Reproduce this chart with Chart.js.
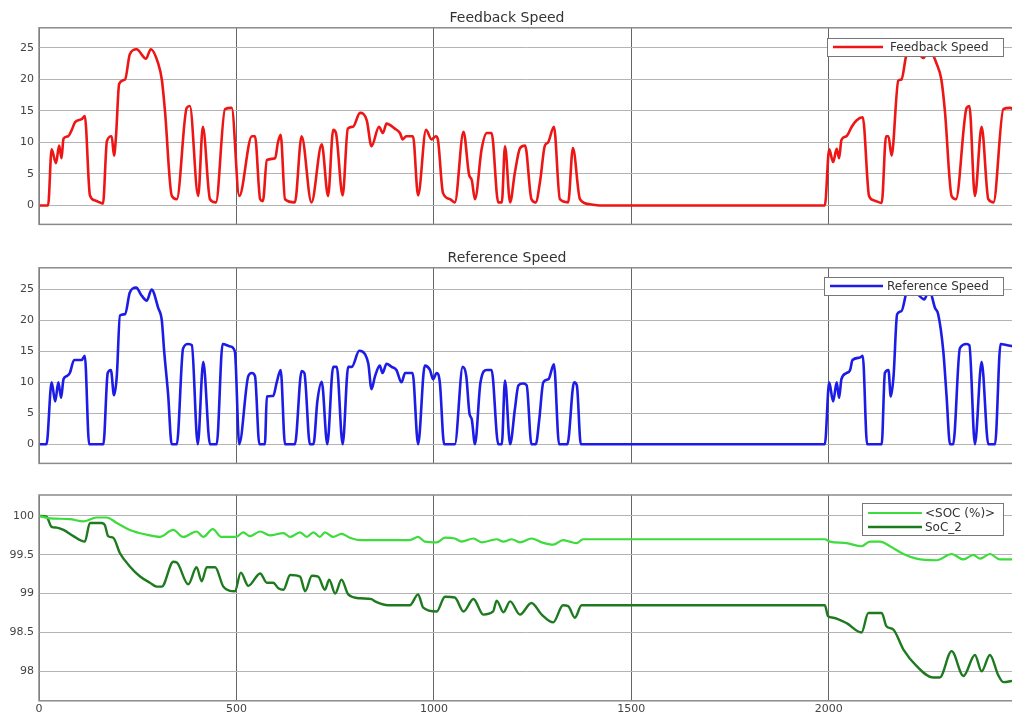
<!DOCTYPE html>
<html>
<head>
<meta charset="utf-8">
<script src="https://cdn.jsdelivr.net/npm/chart.js@4.4.1/dist/chart.umd.min.js"></script>
<style>
  html, body { margin: 0; padding: 0; background: #fff; width: 1012px; height: 718px; overflow: hidden; }
  canvas { position: absolute; left: 0; }
  #c1 { top: 0; }
  #c2 { top: 240px; }
  #c3 { top: 480px; }
</style>
</head>
<body>
<canvas id="c1" width="1016" height="236"></canvas>
<canvas id="c2" width="1016" height="235"></canvas>
<canvas id="c3" width="1016" height="238"></canvas>
<script>
// --- data ---
const xTicks = [0, 500, 1000, 1500, 2000];
const speedTicks = [0, 5, 10, 15, 20, 25];
const socTicks = [98, 98.5, 99, 99.5, 100];

// Feedback Speed
const fbT = [0, 23, 32, 43, 51, 57, 62, 74, 83, 91, 108, 116, 129, 142, 162, 172, 184, 190, 195, 203, 218, 230, 247, 271, 283, 302, 311, 319, 336, 349, 374, 382, 403, 415, 433, 448, 471, 488, 507, 539, 547, 560, 567, 577, 598, 605, 612, 623, 648, 665, 690, 716, 732, 745, 752, 769, 782, 795, 813, 830, 842, 861, 871, 880, 901, 914, 921, 930, 947, 960, 980, 994, 1005, 1010, 1023, 1041, 1053, 1075, 1089, 1096, 1104, 1121, 1134, 1146, 1163, 1172, 1180, 1193, 1205, 1218, 1231, 1247, 1258, 1269, 1281, 1289, 1304, 1319, 1340, 1352, 1370, 1395, 1420, 1990, 2001, 2011, 2020, 2026, 2032, 2045, 2058, 2070, 2086, 2102, 2115, 2134, 2145, 2151, 2159, 2176, 2184, 2197, 2216, 2240, 2252, 2273, 2285, 2294, 2311, 2322, 2349, 2356, 2370, 2387, 2404, 2417, 2442, 2459, 2468];
const fbV = [0, 0, 8.9, 6.7, 9.5, 7.5, 10.6, 11, 12, 13.2, 13.7, 14.2, 1.6, 0.8, 0.3, 10.2, 11, 7.9, 11, 19.3, 20, 24, 24.8, 23.3, 24.8, 22.5, 20, 15, 1.6, 1.0, 15.5, 15.8, 1.5, 12.5, 1.0, 0.5, 15.3, 15.5, 1.5, 11, 11, 1, 0.7, 7.2, 7.5, 10, 11.2, 1, 0.5, 11, 0.5, 9.7, 1.5, 12, 11.5, 1.6, 12.2, 12.5, 14.7, 13.5, 9.4, 12.5, 11.5, 13, 12.2, 11.5, 10.5, 11, 11, 1.6, 12, 10.5, 11, 10.5, 2, 1, 0.5, 11.7, 4.9, 4, 1, 9, 11.5, 11.5, 0.5, 0.5, 9.4, 0.5, 5.2, 9.1, 9.5, 1, 0.5, 3.9, 9.5, 10, 12.5, 1, 0.5, 9.1, 1, 0.2, 0, 0, 8.9, 6.9, 9, 7.5, 10.4, 11, 12.5, 13.5, 14, 1.5, 0.8, 0.4, 11, 11, 7.9, 19.8, 20, 24, 25, 23.4, 25, 22.5, 20, 15, 1.5, 1, 15.5, 15.8, 1.5, 12.5, 1, 0.5, 15.3, 15.5, 15.2];

// Reference Speed
const rfT = [0, 19, 32, 41, 49, 56, 62, 70, 78, 89, 108, 116, 127, 163, 174, 182, 190, 197, 205, 218, 230, 246, 260, 273, 285, 302, 311, 317, 327, 336, 349, 365, 378, 387, 402, 416, 433, 450, 465, 484, 496, 507, 530, 539, 547, 558, 572, 577, 593, 602, 612, 623, 648, 665, 672, 686, 695, 705, 716, 730, 745, 754, 769, 783, 792, 811, 826, 834, 842, 851, 863, 870, 880, 893, 905, 918, 927, 946, 960, 977, 990, 998, 1007, 1015, 1026, 1053, 1073, 1082, 1090, 1096, 1104, 1118, 1134, 1146, 1163, 1172, 1180, 1193, 1205, 1214, 1226, 1235, 1247, 1258, 1267, 1277, 1290, 1304, 1317, 1338, 1355, 1362, 1372, 1990, 2001, 2011, 2020, 2026, 2032, 2045, 2054, 2060, 2079, 2086, 2097, 2134, 2142, 2151, 2157, 2164, 2173, 2184, 2197, 2215, 2229, 2242, 2254, 2269, 2277, 2290, 2298, 2307, 2315, 2332, 2349, 2356, 2370, 2387, 2404, 2421, 2435, 2452, 2468];
const rfV = [0, 0, 10, 6.9, 10, 7.5, 10.5, 11, 11.5, 13.6, 13.6, 14.3, 0, 0, 11.5, 12, 7.9, 11, 20.8, 21, 24.5, 25.3, 24, 23.2, 25, 22, 20, 15, 8, 0, 0, 15.5, 16.2, 16, 0, 13.3, 0, 0, 16.2, 15.8, 15, 0, 11, 11.5, 11, 0, 0, 7.7, 7.8, 10, 12, 0, 0, 11.8, 11.5, 0, 0, 7, 10.1, 0, 12.5, 12.5, 0, 12.5, 12.5, 15.1, 14.5, 13, 8.9, 11, 12.7, 11.5, 13, 12.5, 12, 10, 11.5, 11.5, 0, 12.7, 12, 10.5, 11.5, 10, 0, 0, 12.5, 11, 5, 4, 0, 10, 12, 12, 0, 0, 10.3, 0, 5.6, 9.5, 9.8, 9.5, 0, 0, 4.1, 10, 10.5, 12.9, 0, 0, 10, 9.5, 0, 0, 10, 6.9, 10, 7.5, 10.5, 11.5, 12, 13.6, 14, 14.3, 0, 0, 11.5, 12, 7.7, 11, 21, 21.5, 24.5, 25.3, 24, 23.4, 25, 22, 21, 15, 8, 0, 0, 15.5, 16.2, 16, 0, 13.3, 0, 0, 16.2, 16, 15.8];

// <SOC (%)>
const socT = [0, 28, 78, 112, 146, 171, 197, 230, 272, 306, 340, 365, 399, 416, 440, 462, 500, 517, 534, 560, 585, 619, 636, 661, 678, 695, 711, 724, 745, 766, 787, 813, 863, 939, 960, 977, 1007, 1028, 1053, 1070, 1100, 1121, 1159, 1176, 1197, 1218, 1247, 1273, 1302, 1327, 1344, 1361, 1378, 1990, 2003, 2045, 2083, 2104, 2130, 2155, 2189, 2222, 2273, 2311, 2341, 2366, 2383, 2408, 2433, 2468];
const socV = [100, 99.97, 99.96, 99.93, 99.98, 99.98, 99.91, 99.82, 99.76, 99.73, 99.82, 99.73, 99.8, 99.73, 99.83, 99.73, 99.73, 99.79, 99.74, 99.8, 99.75, 99.78, 99.73, 99.79, 99.73, 99.79, 99.73, 99.79, 99.73, 99.77, 99.72, 99.69, 99.69, 99.69, 99.73, 99.67, 99.66, 99.72, 99.71, 99.67, 99.71, 99.66, 99.7, 99.67, 99.7, 99.66, 99.71, 99.66, 99.63, 99.69, 99.67, 99.65, 99.7, 99.7, 99.67, 99.65, 99.61, 99.67, 99.67, 99.61, 99.51, 99.45, 99.43, 99.51, 99.44, 99.5, 99.45, 99.51, 99.44, 99.44];

// SoC_2
const soc2T = [0, 19, 32, 45, 62, 87, 116, 129, 159, 167, 175, 188, 205, 230, 256, 281, 298, 311, 340, 349, 378, 399, 412, 425, 446, 467, 496, 511, 530, 560, 577, 593, 606, 619, 636, 661, 674, 691, 707, 724, 735, 750, 766, 783, 813, 842, 851, 885, 939, 960, 973, 1007, 1028, 1053, 1075, 1100, 1125, 1150, 1159, 1176, 1193, 1218, 1247, 1273, 1302, 1327, 1340, 1357, 1374, 1990, 1998, 2011, 2045, 2083, 2100, 2134, 2146, 2163, 2189, 2222, 2264, 2281, 2311, 2341, 2370, 2387, 2408, 2429, 2442, 2468];
const soc2V = [100, 99.99, 99.86, 99.85, 99.82, 99.74, 99.67, 99.91, 99.91, 99.88, 99.74, 99.72, 99.52, 99.35, 99.22, 99.14, 99.09, 99.09, 99.41, 99.4, 99.12, 99.34, 99.16, 99.34, 99.34, 99.09, 99.03, 99.27, 99.1, 99.26, 99.14, 99.14, 99.07, 99.05, 99.24, 99.22, 99.03, 99.23, 99.22, 99.05, 99.18, 99.0, 99.18, 98.99, 98.94, 98.93, 98.9, 98.85, 98.85, 98.99, 98.82, 98.77, 98.96, 98.95, 98.77, 98.93, 98.73, 98.77, 98.91, 98.76, 98.9, 98.73, 98.88, 98.73, 98.63, 98.85, 98.84, 98.69, 98.85, 98.85, 98.71, 98.69, 98.62, 98.5, 98.75, 98.75, 98.58, 98.54, 98.28, 98.07, 97.92, 97.92, 98.26, 97.94, 98.21, 98.0, 98.21, 97.95, 97.86, 97.88];

// --- shared helpers ---
const FONT = 'DejaVu Sans';
const X_MAX = 2469;

function pts(t, v) {
    return t.map((x, i) => ({ x: x, y: v[i] }));
}

function lineSet(label, t, v, color, width) {
    return {
        label: label,
        data: pts(t, v),
        borderColor: color,
        borderWidth: width,
        pointRadius: 0,
        fill: false,
        cubicInterpolationMode: 'monotone'
    };
}

// frame + legend box drawn on top of the plot (MATLAB scope look)
function scopePlugin(box) {
    return {
        id: 'scope',
        afterDatasetsDraw(chart) {
            const c = chart.ctx;
            const a = chart.chartArea;
            c.save();
            c.strokeStyle = '#8a8a8a';
            c.lineWidth = 1.5;
            c.strokeRect(a.left, a.top, a.right - a.left, a.bottom - a.top);

            // legend
            c.fillStyle = '#ffffff';
            c.fillRect(box.x, box.y, box.w, box.h);
            c.strokeStyle = '#777';
            c.lineWidth = 1;
            c.strokeRect(box.x + 0.5, box.y + 0.5, box.w, box.h);
            c.font = '12px "' + FONT + '"';
            c.textBaseline = 'middle';
            chart.data.datasets.forEach((ds, i) => {
                const ry = box.rows[i];
                c.strokeStyle = ds.borderColor;
                c.lineWidth = ds.borderWidth;
                c.beginPath();
                c.moveTo(box.s0, ry);
                c.lineTo(box.s1, ry);
                c.stroke();
                c.fillStyle = '#333';
                c.fillText(ds.label, box.tx, ry + 0.5);
            });
            c.restore();
        }
    };
}

function makeChart(id, datasets, opt) {
    const yTickList = opt.yTicks;
    return new Chart(document.getElementById(id), {
        type: 'line',
        data: { datasets: datasets },
        options: {
            responsive: false,
            animation: false,
            layout: { padding: { left: 0, right: 2, top: opt.padTop, bottom: opt.padBottom } },
            plugins: {
                legend: { display: false },
                tooltip: { enabled: false },
                title: {
                    display: !!opt.title,
                    text: opt.title || '',
                    color: '#333',
                    font: { family: FONT, size: 14, weight: 'normal' },
                    padding: { top: 10, bottom: 1 }
                }
            },
            scales: {
                x: {
                    type: 'linear',
                    min: 0,
                    max: X_MAX,
                    afterBuildTicks: axis => { axis.ticks = xTicks.map(v => ({ value: v })); },
                    grid: { color: '#666', lineWidth: 1, drawTicks: false },
                    border: { display: false },
                    ticks: {
                        display: opt.xLabels,
                        color: '#444',
                        padding: 2,
                        maxRotation: 0,
                        font: { family: FONT, size: 11 },
                        callback: v => String(v)
                    }
                },
                y: {
                    min: opt.yMin,
                    max: opt.yMax,
                    afterBuildTicks: axis => { axis.ticks = yTickList.map(v => ({ value: v })); },
                    afterFit: axis => { axis.width = 39; },
                    grid: { color: '#b4b4b4', lineWidth: 1, drawTicks: false },
                    border: { display: false },
                    ticks: {
                        color: '#444',
                        padding: 5,
                        font: { family: FONT, size: 11 },
                        callback: v => String(v)
                    }
                }
            }
        },
        plugins: [scopePlugin(opt.box)]
    });
}

// --- 1. Feedback Speed ---
makeChart('c1', [lineSet('Feedback Speed', fbT, fbV, '#ee1515', 2.6)], {
    title: 'Feedback Speed',
    padTop: 0, padBottom: 2,
    yMin: -3, yMax: 28.2, yTicks: speedTicks, xLabels: false,
    box: { x: 827, y: 38, w: 176, h: 18, rows: [47], s0: 833, s1: 883, tx: 890 }
});

// --- 2. Reference Speed ---
makeChart('c2', [lineSet('Reference Speed', rfT, rfV, '#1c1ce6', 2.6)], {
    title: 'Reference Speed',
    padTop: 0, padBottom: 2,
    yMin: -3.1, yMax: 28.5, yTicks: speedTicks, xLabels: false,
    box: { x: 824, y: 37, w: 179, h: 18, rows: [46], s0: 830, s1: 883, tx: 887 }
});

// --- 3. SOC ---
makeChart('c3', [
    lineSet('<SOC (%)>', socT, socV, '#3cdc3c', 2.2),
    lineSet('SoC_2', soc2T, soc2V, '#1e7a1e', 2.4)
], {
    title: '',
    padTop: 15, padBottom: 0,
    yMin: 97.62, yMax: 100.27, yTicks: socTicks, xLabels: true,
    box: { x: 862, y: 23, w: 141, h: 32, rows: [33, 47], s0: 868, s1: 922, tx: 925 }
});
</script>
</body>
</html>
